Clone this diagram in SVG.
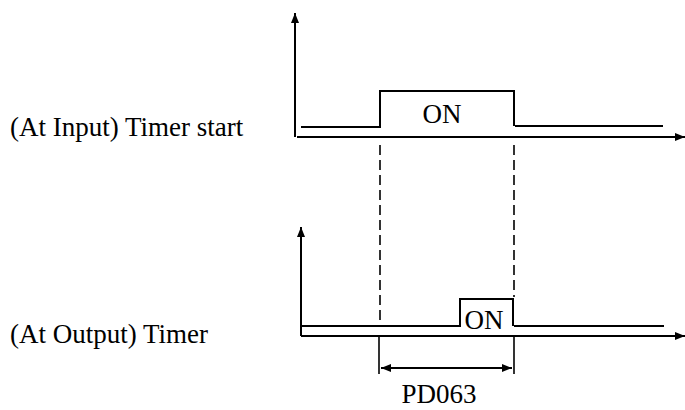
<svg xmlns="http://www.w3.org/2000/svg" width="685" height="410" viewBox="0 0 685 410">
<style>
text{font-family:"Liberation Serif","Times New Roman",serif;font-size:27px;fill:#000}
.ln{fill:none;stroke:#000;stroke-width:2}
.ax{fill:none;stroke:#000;stroke-width:2}
.dash{fill:none;stroke:#000;stroke-width:1.6;stroke-dasharray:10 5}
</style>
<defs>
<marker id="ah" viewBox="0 0 10 10" refX="10" refY="5" markerWidth="10" markerHeight="10" markerUnits="userSpaceOnUse" orient="auto-start-reverse">
<path d="M0,1 L10,5 L0,9 Z" fill="#000"/>
</marker>
</defs>
<rect width="685" height="410" fill="#fff"/>
<g id="label-input"><text x="10" y="136" font-size="27.5">(At Input) Timer start</text></g>
<g id="label-output"><text x="10" y="343">(At Output) Timer</text></g>
<g id="axes">
<line class="ax" x1="295" y1="137" x2="295" y2="13" marker-end="url(#ah)"/>
<line class="ax" x1="297" y1="137" x2="685" y2="137" marker-end="url(#ah)"/>
<line class="ax" x1="301" y1="336" x2="301" y2="227" marker-end="url(#ah)"/>
<line class="ax" x1="301" y1="336" x2="685" y2="336" marker-end="url(#ah)"/>
</g>
<g id="signal-input">
<polyline class="ln" points="301,127 380,127 380,91 514,91 514,126"/>
<line class="ln" x1="515" y1="126" x2="663" y2="126"/>
<text x="442" y="123" text-anchor="middle">ON</text>
</g>
<g id="signal-output">
<polyline class="ln" points="301,326 460,326 460,299 513,299 513,326"/>
<line class="ln" x1="514" y1="326" x2="664" y2="326"/>
<text x="484" y="329" text-anchor="middle" font-size="26">ON</text>
</g>
<g id="connectors">
<line class="dash" x1="380" y1="145" x2="380" y2="322"/>
<line class="dash" x1="514" y1="145" x2="514" y2="297"/>
<line class="ln" x1="379" y1="336" x2="379" y2="374" style="stroke-width:1.6"/>
<line class="ln" x1="514" y1="336" x2="514" y2="374" style="stroke-width:1.6"/>
<line class="ln" x1="381" y1="368" x2="512" y2="368" marker-start="url(#ah)" marker-end="url(#ah)"/>
</g>
<g id="label-pd"><text x="439" y="403" text-anchor="middle">PD063</text></g>
</svg>
